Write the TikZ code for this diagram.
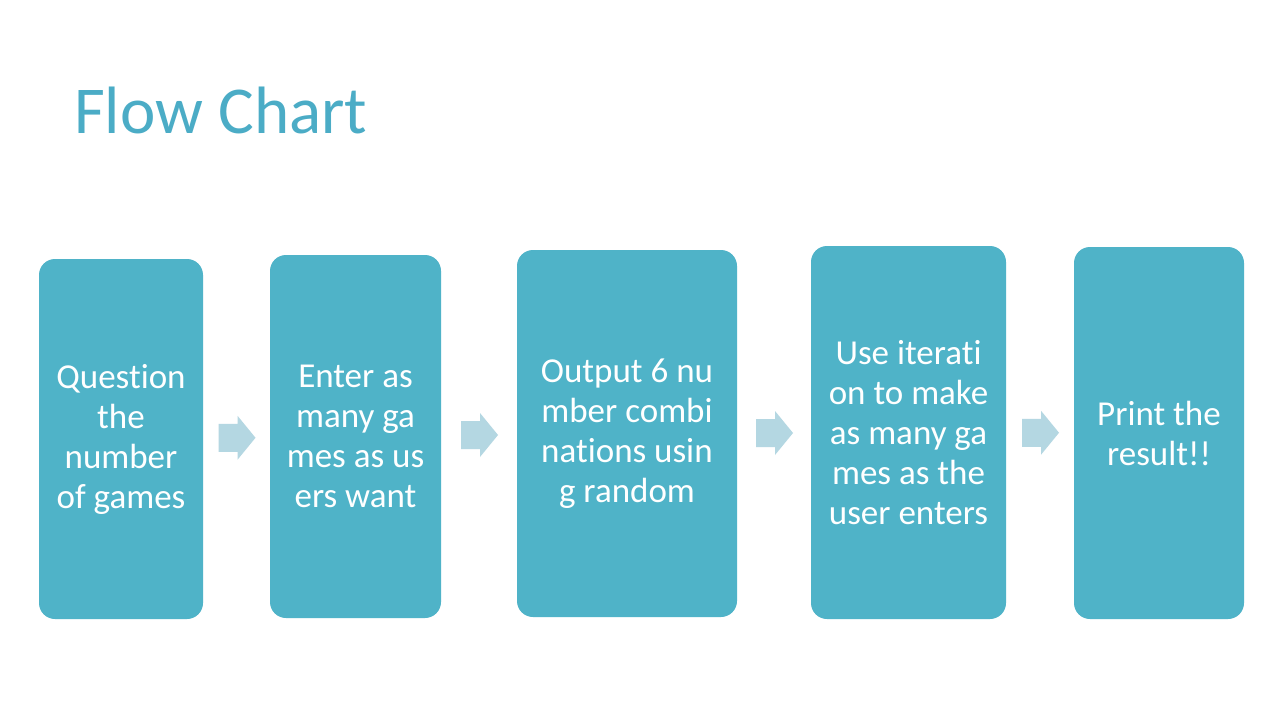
\documentclass[tikz,border=0pt]{standalone}
\usepackage{fontspec}
\setmainfont{Carlito}[Ligatures=NoCommon]
\usetikzlibrary{calc}

\definecolor{titleblue}{HTML}{4BACC6}
\definecolor{boxfill}{HTML}{4FB3C8}
\definecolor{arrowfill}{HTML}{B4D7E2}

\tikzset{
  stepbox/.style={rectangle, rounded corners=16pt, fill=boxfill, draw=none,
    text=white, align=center, inner sep=0pt,
    font=\fontsize{35}{40}\selectfont},
  flowarrow/.pic={
    \fill[arrowfill] (-18,-14) -- (1,-14) -- (1,-22) -- (19,0)
      -- (1,22) -- (1,14) -- (-18,14) -- cycle;
  }
}

\begin{document}
\begin{tikzpicture}[x=1pt,y=-1pt]
  \useasboundingbox (0,0) rectangle (1280,720);
  \fill[white] (0,0) rectangle (1280,720);

  % heading
  \node[anchor=base west, inner sep=0pt, text=titleblue,
        font=\fontsize{67}{80}\selectfont] (title) at (74,133) {Flow Chart};

  % process steps
  \node[stepbox, minimum width=164pt, minimum height=360pt] (b1) at (121,439)
    {Question\\the\\number\\of games};
  \node[stepbox, minimum width=171pt, minimum height=363pt] (b2) at (355.5,436.5)
    {Enter as\\many ga\\mes as us\\ers want};
  \node[stepbox, minimum width=220pt, minimum height=367pt] (b3) at (627,433.5)
    {Output 6 nu\\mber combi\\nations usin\\g random};
  \node[stepbox, minimum width=195pt, minimum height=373pt] (b4) at (908.5,432.5)
    {Use iterati\\on to make\\as many ga\\mes as the\\user enters};
  \node[stepbox, minimum width=170pt, minimum height=372pt] (b5) at (1159,433)
    {Print the\\result!!};

  % block arrows between consecutive steps
  \pic at ($(b1.east)!0.5!(b2.west)$) {flowarrow};
  \pic at ($(b2.east)!0.5!(b3.west)$) {flowarrow};
  \pic at ($(b3.east)!0.5!(b4.west)$) {flowarrow};
  \pic at ($(b4.east)!0.5!(b5.west)$) {flowarrow};
\end{tikzpicture}
\end{document}
